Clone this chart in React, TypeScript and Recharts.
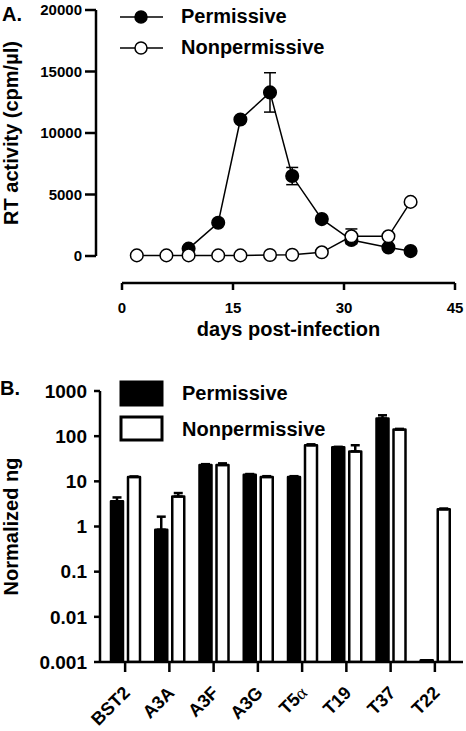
import {
  LineChart,
  Line,
  BarChart,
  Bar,
  XAxis,
  YAxis,
  ErrorBar,
  Legend,
  Label,
} from "recharts";

const FONT = "'Liberation Sans', Arial, sans-serif";

// panel A: RT activity over time
const days = [2, 6, 9, 13, 16, 20, 23, 27, 31, 36, 39];
const permissiveRT = [null, null, 600, 2700, 11100, 13300, 6500, 3000, 1300, 700, 400];
const permissiveRTErr = [0, 0, 0, 0, 0, 1600, 700, 0, 0, 0, 0];
const nonpermissiveRT = [50, 50, 50, 50, 50, 80, 100, 300, 1600, 1600, 4400];
const nonpermissiveRTErr = [0, 0, 0, 0, 0, 0, 0, 0, 600, 0, 0];
const rtTicks = [0, 5000, 10000, 15000, 20000];
const dayTicks = [0, 15, 30, 45];

// panel B: restriction factor expression
const genes = ["BST2", "A3A", "A3F", "A3G", "T5α", "T19", "T37", "T22"];
const permissiveNg = [3.6, 0.85, 23, 14, 12.5, 57, 245, 0.0011];
const permissiveNgErr = [0.8, 0.8, 1, 0.5, 0.5, 1, 45, 0];
const nonpermissiveNg = [12.5, 4.6, 23, 12.5, 63, 46, 140, 2.4];
const nonpermissiveNgErr = [0.3, 0.9, 2, 0.5, 3, 17, 5, 0.1];
const ngTicks = [0.001, 0.01, 0.1, 1, 10, 100, 1000];

const rtData = days.map((day, i) => ({
  day,
  permissive: permissiveRT[i],
  permissiveErr: permissiveRTErr[i],
  nonpermissive: nonpermissiveRT[i],
  nonpermissiveErr: nonpermissiveRTErr[i],
}));

// upper-only error bars
const ngData = genes.map((gene, i) => ({
  gene,
  permissive: permissiveNg[i],
  permissiveErr: permissiveNgErr[i] ? [0, permissiveNgErr[i]] : 0,
  nonpermissive: nonpermissiveNg[i],
  nonpermissiveErr: nonpermissiveNgErr[i] ? [0, nonpermissiveNgErr[i]] : 0,
}));

const tickStyle = (size: number) => ({
  fill: "#000",
  fontSize: size,
  fontWeight: "bold",
  fontFamily: FONT,
});
const axisStroke = { stroke: "#000", strokeWidth: 2.5 };

function LineKey() {
  const items = [
    { name: "Permissive", fill: "#000" },
    { name: "Nonpermissive", fill: "#fff" },
  ];
  return (
    <div style={{ fontFamily: FONT, fontWeight: "bold", fontSize: 20, color: "#000" }}>
      {items.map((it) => (
        <div key={it.name} style={{ display: "flex", alignItems: "center", height: 31 }}>
          <svg width={46} height={16}>
            <line x1={1} x2={44} y1={8} y2={8} stroke="#000" strokeWidth={1.5} />
            <circle cx={22} cy={8} r={6} fill={it.fill} stroke="#000" strokeWidth={1.5} />
          </svg>
          <span style={{ marginLeft: 16 }}>{it.name}</span>
        </div>
      ))}
    </div>
  );
}

function BarKey() {
  const items = [
    { name: "Permissive", fill: "#000" },
    { name: "Nonpermissive", fill: "#fff" },
  ];
  return (
    <div style={{ fontFamily: FONT, fontWeight: "bold", fontSize: 20, color: "#000" }}>
      {items.map((it) => (
        <div key={it.name} style={{ display: "flex", alignItems: "center", height: 35.5 }}>
          <svg width={46} height={28}>
            <rect x={2} y={2} width={41} height={23} fill={it.fill} stroke="#000" strokeWidth={3} />
          </svg>
          <span style={{ marginLeft: 17 }}>{it.name}</span>
        </div>
      ))}
    </div>
  );
}

function GeneTick({ x, y, payload }: any) {
  const label = String(payload.value);
  const greek = label.endsWith("α");
  return (
    <g transform={`translate(${x + 6},${y})`}>
      <text
        transform="rotate(-45)"
        textAnchor="end"
        fontFamily={FONT}
        fontWeight="bold"
        fontSize={18}
        fill="#000"
      >
        {greek ? (
          <>
            {label.slice(0, -1)}
            <tspan fontFamily="'Liberation Serif', serif" fontWeight="normal">
              α
            </tspan>
          </>
        ) : (
          label
        )}
      </text>
    </g>
  );
}

function PanelA() {
  return (
    <LineChart
      width={466}
      height={345}
      data={rtData}
      margin={{ top: 10, right: 11, bottom: 0, left: 0 }}
    >
      <XAxis
        dataKey="day"
        type="number"
        domain={[0, 45]}
        ticks={dayTicks}
        padding={{ left: 26, right: 0 }}
        height={62}
        axisLine={{ ...axisStroke, strokeDasharray: "0 26 1000" }}
        tickLine={axisStroke}
        tickSize={7}
        tickMargin={12}
        tick={tickStyle(15)}
      >
        <Label
          content={({ viewBox }: any) => (
            <text
              x={viewBox.x + 26 + (viewBox.width - 26) / 2}
              y={viewBox.y + 53}
              textAnchor="middle"
              fontFamily={FONT}
              fontWeight="bold"
              fontSize={20}
              fill="#000"
            >
              days post-infection
            </text>
          )}
        />
      </XAxis>
      <YAxis
        type="number"
        domain={[0, 20000]}
        ticks={rtTicks}
        padding={{ top: 0, bottom: 27 }}
        width={96}
        axisLine={{ ...axisStroke, strokeDasharray: "246 1000" }}
        tickLine={axisStroke}
        tickSize={11}
        tickMargin={3}
        tick={tickStyle(15)}
      >
        <Label
          content={({ viewBox }: any) => {
            const cy = viewBox.y + (viewBox.height - 27) / 2;
            return (
              <text
                x={18}
                y={cy}
                transform={`rotate(-90, 18, ${cy})`}
                textAnchor="middle"
                fontFamily={FONT}
                fontWeight="bold"
                fontSize={20}
                fill="#000"
              >
                RT activity (cpm/µl)
              </text>
            );
          }}
        />
      </YAxis>
      <Legend
        layout="vertical"
        align="center"
        verticalAlign="middle"
        content={<LineKey />}
        wrapperStyle={{ top: 1, left: 119, width: "auto" }}
      />
      <Line
        dataKey="permissive"
        stroke="#000"
        strokeWidth={1.5}
        dot={{ r: 6.3, fill: "#000", stroke: "#000", strokeWidth: 1.5 }}
        activeDot={false}
        isAnimationActive={false}
      >
        <ErrorBar dataKey="permissiveErr" direction="y" width={6} stroke="#000" strokeWidth={1.5} isAnimationActive={false} />
      </Line>
      <Line
        dataKey="nonpermissive"
        stroke="#000"
        strokeWidth={1.5}
        dot={{ r: 6.3, fill: "#fff", stroke: "#000", strokeWidth: 1.5 }}
        activeDot={false}
        isAnimationActive={false}
      >
        <ErrorBar dataKey="nonpermissiveErr" direction="y" width={6} stroke="#000" strokeWidth={1.5} isAnimationActive={false} />
      </Line>
    </LineChart>
  );
}

function PanelB() {
  return (
    <BarChart
      width={466}
      height={386}
      data={ngData}
      margin={{ top: 46, right: 3, bottom: 0, left: 0 }}
      barSize={12}
      barGap={5}
    >
      <XAxis
        dataKey="gene"
        height={69}
        interval={0}
        padding={{ left: 3, right: 6 }}
        axisLine={axisStroke}
        tickLine={axisStroke}
        tickSize={10}
        tickMargin={22}
        tick={<GeneTick />}
      />
      <YAxis
        type="number"
        scale="log"
        domain={[0.001, 1000]}
        ticks={ngTicks}
        allowDataOverflow
        width={100}
        axisLine={axisStroke}
        tickLine={axisStroke}
        tickSize={6}
        tickMargin={7}
        tick={tickStyle(19)}
        tickFormatter={(v: number) => String(v)}
      >
        <Label
          content={({ viewBox }: any) => {
            const cy = viewBox.y + viewBox.height / 2;
            return (
              <text
                x={18}
                y={cy}
                transform={`rotate(-90, 18, ${cy})`}
                textAnchor="middle"
                fontFamily={FONT}
                fontWeight="bold"
                fontSize={20}
                fill="#000"
              >
                Normalized ng
              </text>
            );
          }}
        />
      </YAxis>
      <Legend
        layout="vertical"
        align="center"
        verticalAlign="middle"
        content={<BarKey />}
        wrapperStyle={{ top: 31, left: 119, width: "auto" }}
      />
      <Bar dataKey="permissive" fill="#000" stroke="#000" strokeWidth={2.5} strokeLinejoin="round" isAnimationActive={false}>
        <ErrorBar dataKey="permissiveErr" direction="y" width={4.5} stroke="#000" strokeWidth={2.5} isAnimationActive={false} />
      </Bar>
      <Bar dataKey="nonpermissive" fill="#fff" stroke="#000" strokeWidth={2.5} strokeLinejoin="round" isAnimationActive={false}>
        <ErrorBar dataKey="nonpermissiveErr" direction="y" width={4.5} stroke="#000" strokeWidth={2.5} isAnimationActive={false} />
      </Bar>
    </BarChart>
  );
}

export default function App() {
  return (
    <div style={{ position: "absolute", left: 0, top: 0, width: 466, height: 731, background: "#fff" }}>
      <div style={{ position: "absolute", left: 0, top: 0 }}>
        <PanelA />
      </div>
      <div style={{ position: "absolute", left: 0, top: 345 }}>
        <PanelB />
      </div>
      <div style={{ position: "absolute", left: 2, top: 4, fontFamily: FONT, fontWeight: "bold", fontSize: 20, lineHeight: "20px" }}>
        A.
      </div>
      <div style={{ position: "absolute", left: 0, top: 378, fontFamily: FONT, fontWeight: "bold", fontSize: 20, lineHeight: "20px" }}>
        B.
      </div>
    </div>
  );
}
